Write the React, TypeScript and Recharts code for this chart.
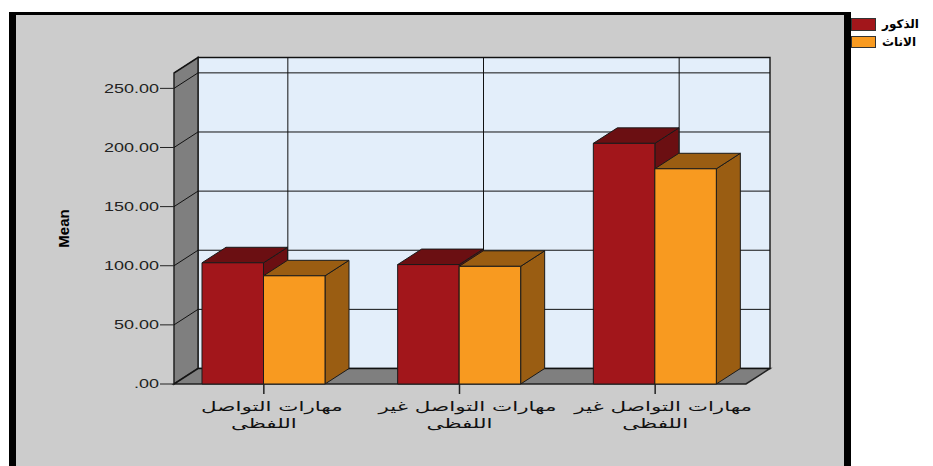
import { Bar, BarChart, CartesianGrid, Legend, XAxis, YAxis } from 'recharts';

const categories = [
  'مهارات التواصل اللفظى',
  'مهارات التواصل غير اللفظى',
  'مهارات التواصل غير اللفظى',
];
const labelTop = ['مهارات التواصل', 'مهارات التواصل غير', 'مهارات التواصل غير'];
const labelBottom = ['اللفظى', 'اللفظى', 'اللفظى'];
const seriesKeys = ['male', 'female'];
const males = [102.5, 101, 203.5];
const females = [91.5, 99.5, 182];
const yTicks = [0, 50, 100, 150, 200, 250];
const yTickLabels = ['.00', '50.00', '100.00', '150.00', '200.00', '250.00'];

const data = categories.map((name, i) => ({ name, male: males[i], female: females[i] }));

const W = 933;
const H = 466;
const PLOT_TOP = 73;
const PLOT_BOTTOM = 384;
const WALL_X = 174;
const FLOOR_RIGHT = 746;
const DX = 24;
const DY = 15.5;
const Y_MAX = 263;

const RED = '#a2161b';
const RED_DARK = '#6b0f12';
const ORANGE = '#f89a20';
const ORANGE_DARK = '#9a5d12';
const EDGE = '#1a1a1a';

const box = (dark: string) => (p: any) => {
  const { x, y, width: w, height: h, fill } = p;
  if (!h || h <= 0) return null;
  return (
    <g stroke={EDGE} strokeWidth={1} strokeLinejoin="round">
      <polygon
        points={`${x + w},${y} ${x + w + DX},${y - DY} ${x + w + DX},${y + h - DY} ${x + w},${y + h}`}
        fill={dark}
      />
      <polygon points={`${x},${y} ${x + DX},${y - DY} ${x + w + DX},${y - DY} ${x + w},${y}`} fill={dark} />
      <rect x={x} y={y} width={w} height={h} fill={fill} />
    </g>
  );
};

const YTick = ({ y, payload }: any) => {
  const label = yTickLabels[yTicks.indexOf(payload.value)];
  return (
    <g>
      <line x1={WALL_X - 14} x2={WALL_X} y1={y} y2={y} stroke="#222" />
      <g transform={`translate(${WALL_X - 15},${y}) scale(1.5,1)`}>
        <text textAnchor="end" dy="0.36em" fontSize={12} fill="#222" fontFamily="Liberation Sans, Arial">
          {label}
        </text>
      </g>
    </g>
  );
};

const XTick = ({ x, payload }: any) => {
  const i = payload.index;
  return (
    <g>
      <line x1={x} x2={x} y1={PLOT_BOTTOM} y2={PLOT_BOTTOM + 10} stroke="#222" strokeWidth={1.5} />
      <g transform={`translate(${x + 8},${PLOT_BOTTOM + 27}) scale(1.65,1)`}>
        <text textAnchor="middle" fontSize={13} fill="#111" fontFamily="DejaVu Sans">
          {labelTop[i]}
        </text>
      </g>
      <g transform={`translate(${x},${PLOT_BOTTOM + 44}) scale(1.65,1)`}>
        <text textAnchor="middle" fontSize={13} fill="#111" fontFamily="DejaVu Sans">
          {labelBottom[i]}
        </text>
      </g>
    </g>
  );
};

const hLine = (p: any) => {
  const y = p.y1;
  return (
    <g key={`h-${y}`} stroke="#111" strokeWidth={1}>
      <line x1={WALL_X} y1={y} x2={WALL_X + DX} y2={y - DY} />
      <line x1={WALL_X + DX} y1={y - DY} x2={FLOOR_RIGHT + DX} y2={y - DY} />
    </g>
  );
};

// only category lines, skip the plot-edge lines the grid adds
const vLine = (p: any) => {
  const x = p.x1;
  if (x <= WALL_X || x >= FLOOR_RIGHT) return <g key={`v-${x}`} />;
  return (
    <line
      key={`v-${x}`}
      x1={x + DX}
      y1={PLOT_TOP - DY}
      x2={x + DX}
      y2={PLOT_BOTTOM - DY}
      stroke="#111"
      strokeWidth={1}
    />
  );
};

const LegendBox = ({ payload }: any) => {
  const items = [...(payload || [])].sort(
    (a: any, b: any) => seriesKeys.indexOf(a.dataKey) - seriesKeys.indexOf(b.dataKey),
  );
  return (
    <div>
      {items.map((p: any) => (
        <div key={p.value} style={{ display: 'flex', alignItems: 'center', height: 17.5 }}>
          <span
            style={{
              boxSizing: 'border-box',
              width: 25,
              height: 12.5,
              background: p.color,
              border: '1px solid #333',
            }}
          />
          <span
            style={{
              marginLeft: 6,
              font: 'bold 12px "DejaVu Sans"',
              whiteSpace: 'nowrap',
              color: '#000',
            }}
          >
            {p.value}
          </span>
        </div>
      ))}
    </div>
  );
};

export default function App() {
  const backTop = PLOT_TOP - DY;
  const backBottom = PLOT_BOTTOM - DY;
  return (
    <div
      style={{
        position: 'absolute',
        left: 0,
        top: 0,
        width: W,
        height: H,
        overflow: 'hidden',
        background: '#fff',
      }}
    >
      <svg width={W} height={H} style={{ position: 'absolute', left: 0, top: 0 }}>
        <rect x={9} y={12} width={842} height={470} fill="#000" />
        <rect x={16} y={15} width={828} height={470} fill="#cccccc" />
        <rect
          x={WALL_X + DX}
          y={backTop}
          width={FLOOR_RIGHT - WALL_X}
          height={backBottom - backTop}
          fill="#e3eefa"
          stroke="#222"
          strokeWidth={1.5}
        />
        <polygon
          points={`${WALL_X},${PLOT_BOTTOM} ${WALL_X},${PLOT_TOP} ${WALL_X + DX},${backTop} ${WALL_X + DX},${backBottom}`}
          fill="#7f7f7f"
          stroke="#222"
          strokeWidth={1.5}
        />
        <polygon
          points={`${WALL_X},${PLOT_BOTTOM} ${WALL_X + DX},${backBottom} ${FLOOR_RIGHT + DX},${backBottom} ${FLOOR_RIGHT},${PLOT_BOTTOM}`}
          fill="#7f7f7f"
          stroke="#222"
          strokeWidth={1.5}
        />
        <text
          transform={`translate(69,${(PLOT_TOP + PLOT_BOTTOM) / 2}) rotate(-90)`}
          textAnchor="middle"
          fontSize={15}
          fontWeight="bold"
          fontFamily="Liberation Sans Narrow, Liberation Sans, Arial"
          fill="#000"
        >
          Mean
        </text>
      </svg>
      <div style={{ position: 'absolute', left: 0, top: 0 }}>
        <BarChart
          width={W}
          height={H}
          data={data}
          barGap={0}
          margin={{ top: PLOT_TOP, right: 180, bottom: 0, left: 16 }}
        >
          <CartesianGrid horizontal={hLine} vertical={vLine} />
          <XAxis
            dataKey="name"
            height={H - PLOT_BOTTOM}
            axisLine={false}
            tickLine={false}
            tick={<XTick />}
            interval={0}
          />
          <YAxis
            width={150}
            domain={[0, Y_MAX]}
            ticks={yTicks}
            axisLine={false}
            tickLine={false}
            tick={<YTick />}
          />
          <Legend
            layout="horizontal"
            verticalAlign="middle"
            align="center"
            content={<LegendBox />}
            wrapperStyle={{ left: 851, top: 15.5, width: 82, right: 'auto', bottom: 'auto' }}
          />
          <Bar dataKey="male" name="الذكور" fill={RED} barSize={61.5} shape={box(RED_DARK)} isAnimationActive={false} />
          <Bar
            dataKey="female"
            name="الاناث"
            fill={ORANGE}
            barSize={61.5}
            shape={box(ORANGE_DARK)}
            isAnimationActive={false}
          />
        </BarChart>
      </div>
    </div>
  );
}
